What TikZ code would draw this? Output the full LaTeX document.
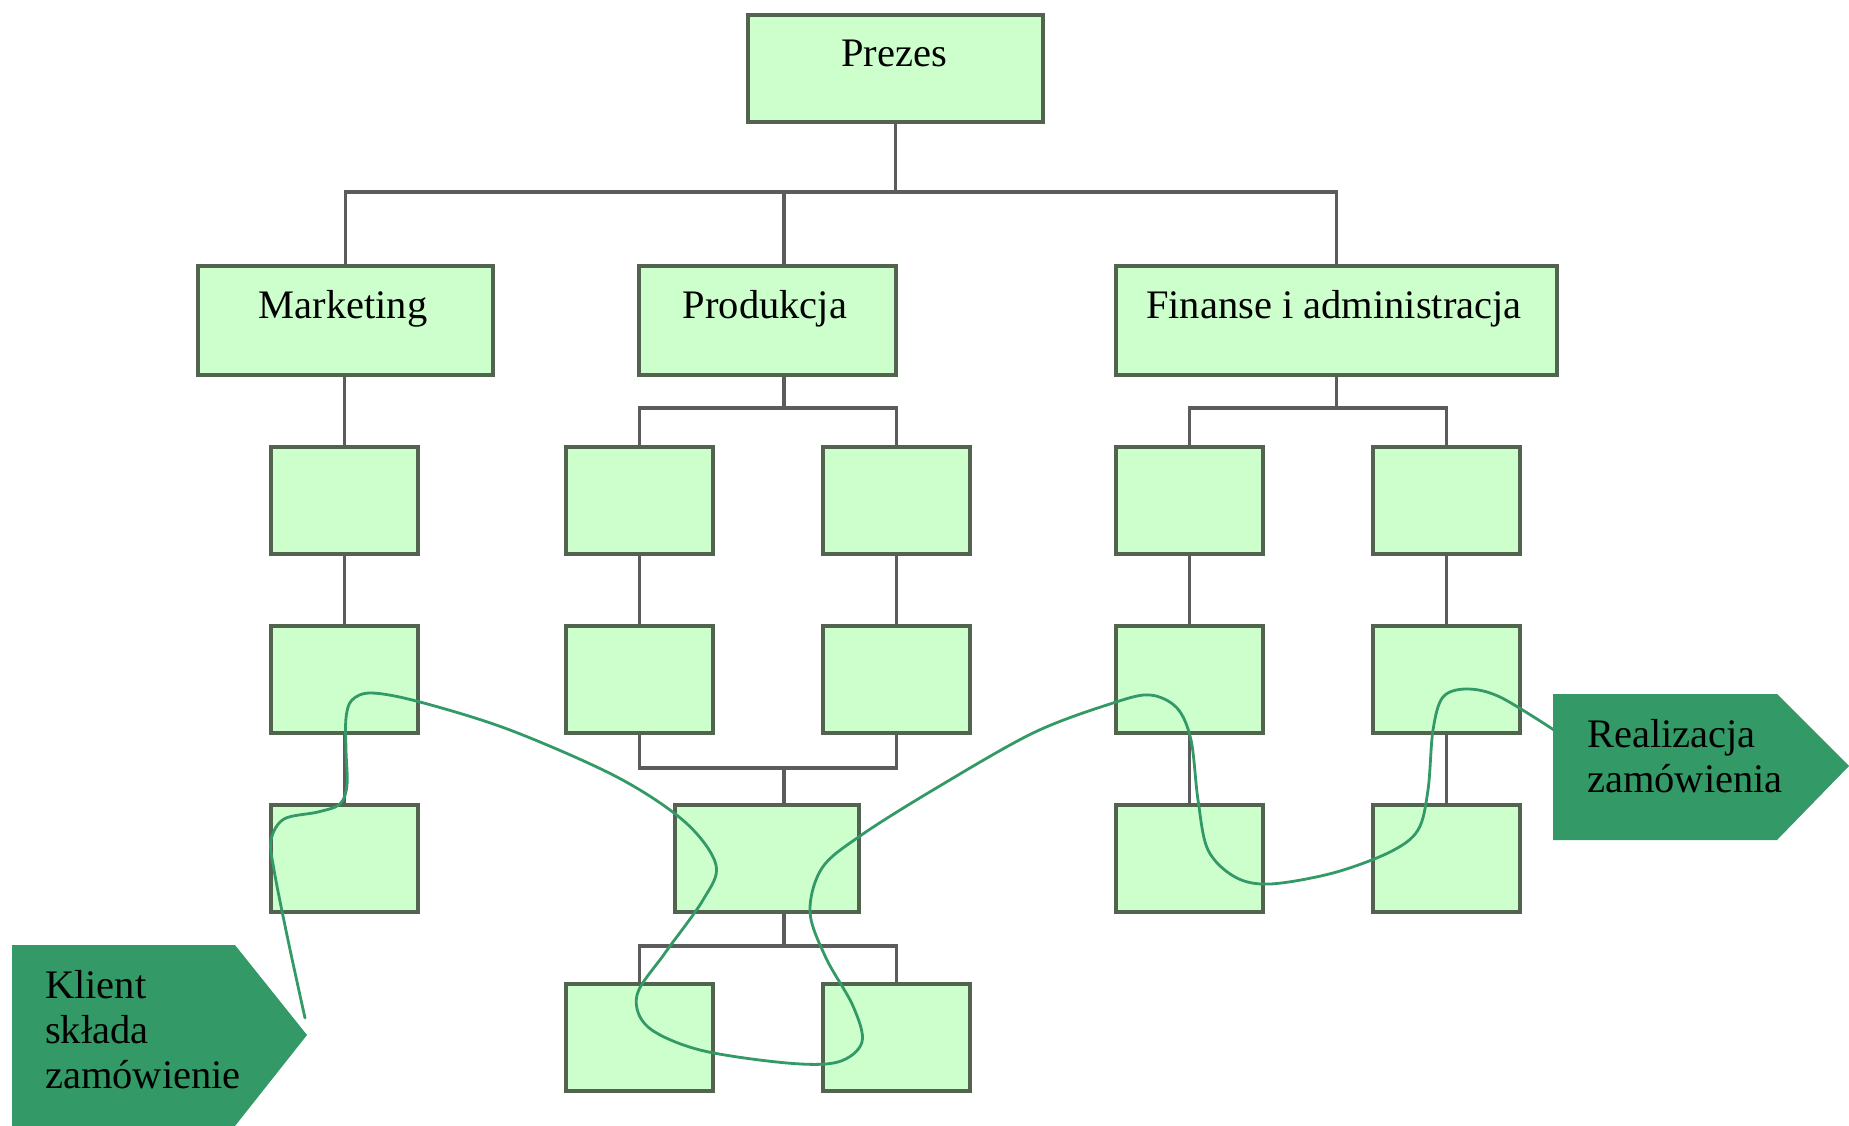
\documentclass[tikz,border=0pt]{standalone}
\usepackage{fontspec}
\setmainfont{Liberation Serif}
\definecolor{boxfill}{HTML}{CCFFCC}
\definecolor{boxline}{HTML}{52634F}
\definecolor{connline}{HTML}{5C5C5C}
\definecolor{flowgreen}{HTML}{339966}
\begin{document}
\begin{tikzpicture}[x=1pt,y=-1pt,
  box/.style={draw=boxline, fill=boxfill, line width=3.8pt, inner sep=0pt, anchor=north west},
  small/.style={box, minimum width=147pt, minimum height=107pt},
  lbl/.style={anchor=base, font=\fontsize{40.5}{45}\selectfont, inner sep=0pt},
  side/.style={lbl, anchor=base west},
  conn/.style={draw=connline, line width=3.4pt},
  flow/.style={draw=flowgreen, line width=2.8pt, line join=round, line cap=round},
  tag/.style={fill=flowgreen}]
\useasboundingbox (0,0) rectangle (1849,1126);

% --- top levels ---
\node[box, minimum width=295pt, minimum height=107pt] (prezes) at (746,13) {};
\node[lbl] (tprezes) at (894,67) {Prezes};

\node[box, minimum width=295pt, minimum height=109pt] (mark) at (196,264) {};
\node[lbl] (tmark) at (343,318) {Marketing};
\node[box, minimum width=257pt, minimum height=109pt] (prod) at (637,264) {};
\node[lbl] (tprod) at (765,318) {Produkcja};
\node[box, minimum width=441pt, minimum height=109pt] (fin) at (1114,264) {};
\node[lbl] (tfin) at (1334,318) {Finanse i administracja};

% --- unnamed units ---
\node[small] (m1) at (269,445) {};
\node[small] (m2) at (269,624) {};
\node[small] (m3) at (269,803) {};
\node[small] (p1) at (564,445) {};
\node[small] (p2) at (821,445) {};
\node[small] (p3) at (564,624) {};
\node[small] (p4) at (821,624) {};
\node[box, minimum width=184pt, minimum height=107pt] (p5) at (673,803) {};
\node[small] (p6) at (564,982) {};
\node[small] (p7) at (821,982) {};
\node[small] (f1) at (1114,445) {};
\node[small] (f2) at (1371,445) {};
\node[small] (f3) at (1114,624) {};
\node[small] (f4) at (1371,624) {};
\node[small] (f5) at (1114,803) {};
\node[small] (f6) at (1371,803) {};

% --- junction points of the tree ---
\coordinate (j0) at (894,192);
\coordinate (ptap) at (784,0);
\coordinate (jp) at (784,408);
\coordinate (jf) at (1334,408);
\coordinate (jq) at (784,768);
\coordinate (jr) at (784,946);

% --- tree connectors (drawn behind the boxes' outlines) ---
\begin{scope}
\draw[conn] (prezes.south) -- (prezes.south |- j0);
\draw[conn] (mark.north) |- (j0) -| (fin.north);
\draw[conn] (j0 -| ptap) -- (prod.north -| ptap);

\draw[conn] (m1.north) -- (m1.north |- mark.south);
\draw[conn] (m1.south) -- (m2.north);
\draw[conn] (m2.south) -- (m3.north);

\draw[conn] (prod.south -| ptap) -- (jp);
\draw[conn] (p1.north) |- (jp) -| (p2.north);
\draw[conn] (p1.south) -- (p3.north);
\draw[conn] (p2.south) -- (p4.north);
\draw[conn] (p3.south) |- (jq) -| (p4.south);
\draw[conn] (jq) -- (p5.north -| ptap);
\draw[conn] (p5.south -| ptap) -- (jr);
\draw[conn] (p6.north) |- (jr) -| (p7.north);

\draw[conn] (fin.south |- jf) -- (fin.south);
\draw[conn] (f1.north) |- (jf) -| (f2.north);
\draw[conn] (f1.south) -- (f3.north);
\draw[conn] (f2.south) -- (f4.north);
\draw[conn] (f3.south) -- (f5.north);
\draw[conn] (f4.south) -- (f6.north);
\end{scope}

% --- start and end tags ---
\fill[tag] (12,945) -- (235,945) -- (307,1035) -- (235,1126) -- (12,1126) -- cycle;
\node[side] (kl1) at (45,998) {Klient};
\node[side] (kl2) at (45,1043) {składa};
\node[side] (kl3) at (45,1088) {zamówienie};

\fill[tag] (1553,694) -- (1777,694) -- (1849,766) -- (1777,840) -- (1553,840) -- cycle;
\node[side] (re1) at (1587,747) {Realizacja};
\node[side] (re2) at (1587,792) {zamówienia};

% --- order flow ---
\coordinate (flowStart) at (305,1018);
\coordinate (flowEnd) at (1554,730);
\draw[flow] plot[smooth, tension=0.55] coordinates {
  (flowStart) (288,940) (274,870) (271,840) (284,819) (318,812) (340,804)
  (347,785) (346,750) (346,718) (352,700) (372,693) (420,702) (510,730)
  (617,777) (685,822) (716,865) (703,900) (665,953) (637,995) (648,1027)
  (700,1050) (787,1063) (838,1062) (862,1042) (853,1006) (826,958)
  (810,912) (822,868) (860,836) (933,790) (1033,733) (1113,703)
  (1150,695) (1177,708) (1191,740) (1198,800) (1208,850) (1235,877)
  (1270,884) (1333,873) (1390,852) (1418,830) (1428,790) (1433,730)
  (1443,697) (1467,689) (1500,697) (flowEnd)};
\end{tikzpicture}
\end{document}
